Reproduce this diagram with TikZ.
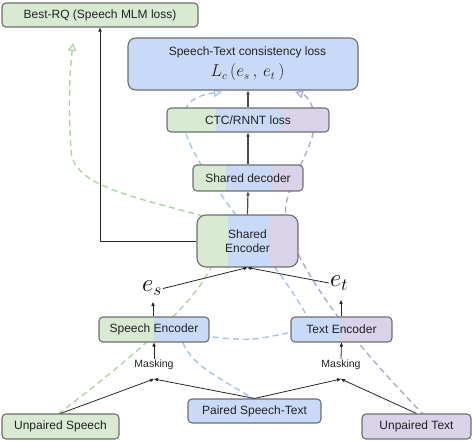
\documentclass[tikz,border=0pt]{standalone}
\usepackage{fontspec}
\setmainfont{Liberation Sans}
\usetikzlibrary{arrows.meta,calc}
\definecolor{gfill}{HTML}{D9EAD3}
\definecolor{bfill}{HTML}{C9DAF8}
\definecolor{pfill}{HTML}{D9D2E9}
\definecolor{bordc}{HTML}{6E6E6E}
\definecolor{gdash}{HTML}{B0D49E}
\definecolor{bdash}{HTML}{A4C2F4}
\definecolor{pdash}{HTML}{B4A7D6}
\definecolor{txt}{HTML}{222222}
\tikzset{
  box/.style={draw=bordc, line width=1.1pt, rounded corners=4pt, inner sep=0pt,
    text=txt, font=\fontsize{12}{14.5}\selectfont, align=center},
  tri/.style n args={2}{path picture={
    \fill[gfill, sharp corners] (path picture bounding box.south west) rectangle ($(path picture bounding box.north west)+(#1,0)$);
    \fill[bfill, sharp corners] ($(path picture bounding box.south west)+(#1,0)$) rectangle ($(path picture bounding box.north west)+(#2,0)$);
    \fill[pfill, sharp corners] ($(path picture bounding box.south west)+(#2,0)$) rectangle (path picture bounding box.north east);}},
  duo/.style n args={3}{path picture={
    \fill[#1, sharp corners] (path picture bounding box.south west) rectangle ($(path picture bounding box.north west)+(#3,0)$);
    \fill[#2, sharp corners] ($(path picture bounding box.south west)+(#3,0)$) rectangle (path picture bounding box.north east);}},
  arr/.style={-{Triangle[length=4pt,width=3.2pt]}, draw=black!85, line width=0.8pt},
  arrv/.style={-{Triangle[length=4pt,width=3.2pt]}, draw=black!70, line width=1.2pt},
  flow/.style={dash pattern=on 6pt off 4pt, line width=1.4pt,
    -{Triangle[open,length=8pt,width=8pt,line width=1.2pt]}},
  flown/.style={dash pattern=on 6pt off 4pt, line width=1.4pt},
  masklbl/.style={font=\fontsize{10.5}{12}\selectfont, text=txt, inner sep=1pt},
  mathlbl/.style={font=\fontsize{26}{30}\selectfont, inner sep=1pt}
}
\begin{document}
\begin{tikzpicture}[x=1pt,y=-1pt]
\useasboundingbox (0,0) rectangle (472,440);

% dashed flow lines (behind the boxes)
\draw[flow, gdash] (58,414) .. controls (130,360) and (200,300) .. (213,262)
  .. controls (220,235) and (215,220) .. (203,216)
  .. controls (130,196) and (72,185) .. (71,150)
  .. controls (68,100) and (70,70) .. (73,43);
\draw[flown, bdash] (257,401) .. controls (215,375) and (190,365) .. (181,338);
\draw[flown, bdash] (203,336) .. controls (250,341) .. (297,331);
\draw[flow, bdash] (310,322) .. controls (280,260) and (170,150) .. (185,112)
  .. controls (187,98) and (205,94) .. (222,92);
\draw[flow, pdash] (425,416) .. controls (330,320) and (280,240) .. (286,205)
  .. controls (292,170) and (318,145) .. (314,115)
  .. controls (312,100) and (305,95) .. (295,92);

% boxes
\node[box, fill=gfill, minimum width=196pt, minimum height=24pt] (bestrq) at (100,15) {Best-RQ (Speech MLM loss)};
\node[box, fill=bfill, rounded corners=8pt, minimum width=230pt, minimum height=52pt] (loss) at (243,64) {};
\node[text=txt, align=center, inner sep=0pt] (losstext) at (247.5,64)
  {\fontsize{12}{14.5}\selectfont Speech-Text consistency loss\\[4pt]
   {\fontsize{16}{16}\selectfont $L_c\,(e_s\,,\,e_t\,)$}};
\node[box, tri={49}{115}, minimum width=162pt, minimum height=24pt] (ctc) at (248,120) {CTC/RNNT loss};
\node[box, tri={33}{79}, minimum width=110pt, minimum height=26pt] (dec) at (248,178) {Shared decoder};
\node[box, tri={31}{72}, rounded corners=9pt, minimum width=101pt, minimum height=52pt] (sh) at (247.5,241) {Shared\\Encoder};
\node[box, duo={gfill}{bfill}{55}, minimum width=110pt, minimum height=25pt] (se) at (154,329.5) {Speech Encoder};
\node[box, duo={bfill}{pfill}{50}, minimum width=101pt, minimum height=25pt] (te) at (341.5,329.5) {Text Encoder};
\node[box, fill=gfill, minimum width=117pt, minimum height=25pt] (us) at (60.5,426.5) {Unpaired Speech};
\node[box, fill=bfill, minimum width=133pt, minimum height=24pt] (ps) at (254.5,411) {Paired Speech-Text};
\node[box, fill=pfill, minimum width=109pt, minimum height=25pt] (ut) at (416.5,426.5) {Unpaired Text};

\node[masklbl] (m1) at (154,365) {Masking};
\node[masklbl] (m2) at (341,365) {Masking};
\coordinate (m1in) at (154,379);
\coordinate (m2in) at (341,379);

\node[mathlbl] (es) at (152,288.5) {$e_s$};
\node[mathlbl] (et) at (339,283) {$e_t$};
\coordinate (estip) at (153,302);
\coordinate (ettip) at (341,300);

% solid arrows
\draw[arr] (us.north) -- (m1in);
\draw[arr] (ps.north) -- (m1in);
\draw[arr] (ps.north) -- (m2in);
\draw[arr] (ut.north) -- (m2in);
\draw[arr] (m1.north) -- (se.south);
\draw[arr] (m2.north) -- (te.south);
\draw[arr] (se.north -| estip) -- (estip);
\draw[arr] (te.north -| ettip) -- (ettip);
\draw[arr] (es.east) -- (sh.south);
\draw[arr] (et.west) -- (sh.south);
\draw[arrv] (sh.north) -- (dec.south);
\draw[arrv] (dec.north) -- (ctc.south);
\draw[arrv] (ctc.north) -- (ctc.north |- loss.south);
\draw[arr, line width=1pt] (sh.west) -| (bestrq.south);
\end{tikzpicture}
\end{document}
